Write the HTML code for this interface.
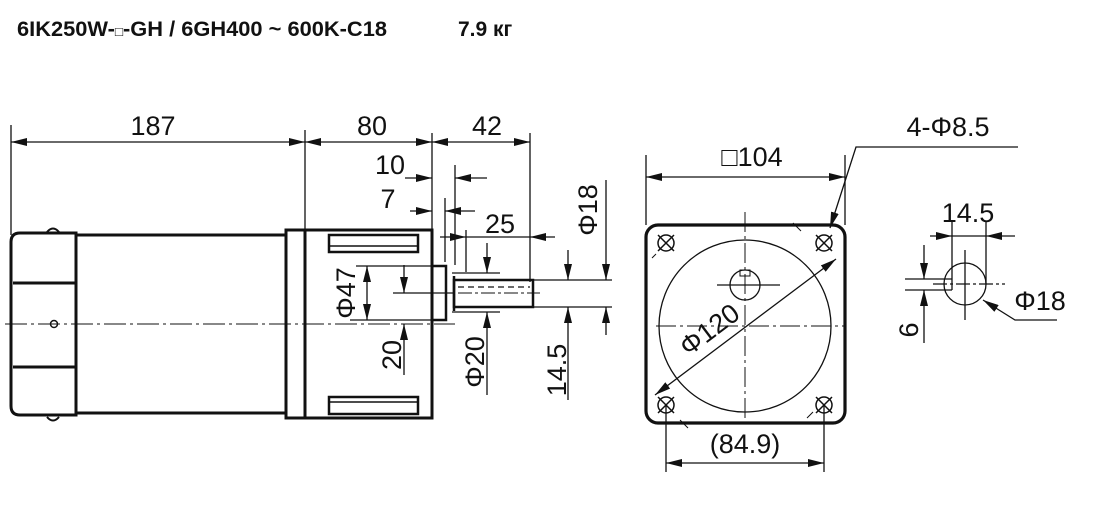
<!DOCTYPE html>
<html><head><meta charset="utf-8"><style>
html,body{margin:0;padding:0;background:#fff;}
svg{display:block;}
text{font-family:"Liberation Sans",sans-serif;fill:#111;}
</style></head><body>
<svg width="1100" height="506" viewBox="0 0 1100 506" xmlns="http://www.w3.org/2000/svg">
<defs>
<marker id="a" viewBox="0 0 16 8" refX="16" refY="4" markerWidth="16" markerHeight="8" markerUnits="userSpaceOnUse" orient="auto"><path d="M0,0 L16,4 L0,8 z" fill="#111"/></marker>
<marker id="s" viewBox="0 0 16 8" refX="16" refY="4" markerWidth="16" markerHeight="8" markerUnits="userSpaceOnUse" orient="auto-start-reverse"><path d="M0,0 L16,4 L0,8 z" fill="#111"/></marker>
</defs>
<text x="17" y="36" font-size="21" font-weight="bold" textLength="370" lengthAdjust="spacingAndGlyphs">6IK250W-<tspan font-size="13">□</tspan>-GH / 6GH400 ~ 600K-C18</text>
<text x="458" y="36" font-size="21" font-weight="bold">7.9 кг</text>

<g stroke="#111" fill="none" stroke-width="1.3">
<line x1="11" y1="125" x2="11" y2="235"/>
<line x1="305" y1="130" x2="305" y2="230"/>
<line x1="432" y1="133" x2="432" y2="230"/>
<line x1="530" y1="133" x2="530" y2="282"/>
<line x1="11" y1="142" x2="305" y2="142" marker-start="url(#s)" marker-end="url(#a)"/>
<line x1="305" y1="142" x2="432" y2="142" marker-start="url(#s)" marker-end="url(#a)"/>
<line x1="432" y1="142" x2="530" y2="142" marker-start="url(#s)" marker-end="url(#a)"/>
<line x1="455" y1="165" x2="455" y2="265"/>
<line x1="405" y1="178" x2="432" y2="178" marker-end="url(#a)"/>
<line x1="487" y1="178" x2="455" y2="178" marker-end="url(#a)"/>
<line x1="445" y1="198" x2="445" y2="262"/>
<line x1="410" y1="211" x2="432" y2="211" marker-end="url(#a)"/>
<line x1="475" y1="211" x2="445" y2="211" marker-end="url(#a)"/>
<line x1="466" y1="230" x2="466" y2="272"/>
<line x1="440" y1="237" x2="466" y2="237" marker-end="url(#a)"/>
<line x1="555" y1="237" x2="530" y2="237" marker-end="url(#a)"/>
<line x1="466" y1="237" x2="530" y2="237"/>

<path d="M20,233 H76 V415 H20 Q11,415 11,406 V242 Q11,233 20,233 Z" stroke-width="3"/>
<line x1="13" y1="283" x2="76" y2="283" stroke-width="3"/>
<line x1="13" y1="367" x2="76" y2="367" stroke-width="3"/>
<path d="M47,232 Q53,225 59,232" stroke-width="2"/>
<path d="M47,417 Q53,424 59,417" stroke-width="2"/>
<circle cx="54" cy="324" r="3.5" stroke-width="1.5"/>
<line x1="76" y1="235" x2="286" y2="235" stroke-width="3"/>
<line x1="76" y1="413" x2="286" y2="413" stroke-width="3"/>
<rect x="286" y="230" width="146" height="188" stroke-width="3"/>
<line x1="305" y1="230" x2="305" y2="418" stroke-width="3"/>
<rect x="329" y="235" width="89" height="17" stroke-width="2.5"/>
<line x1="329" y1="246" x2="418" y2="246" stroke-width="1.5"/>
<rect x="329" y="397" width="89" height="17" stroke-width="2.5"/>
<line x1="329" y1="402" x2="418" y2="402" stroke-width="1.5"/>
<rect x="432" y="266" width="14" height="54" stroke-width="2.5"/>
<rect x="454" y="280" width="79" height="27" stroke-width="2.5"/>
<line x1="454" y1="276" x2="454" y2="311" stroke-width="2.5"/>
<line x1="458" y1="287" x2="530" y2="287" stroke-dasharray="6,4" stroke-width="1.2"/>
<line x1="458" y1="293" x2="540" y2="293" stroke-dasharray="14,3,3,3" stroke-width="1"/>
<line x1="5" y1="324" x2="455" y2="324" stroke-dasharray="22,4,3,4" stroke-width="1"/>

<line x1="356" y1="266" x2="446" y2="266"/>
<line x1="350" y1="320" x2="446" y2="320"/>
<line x1="367" y1="293" x2="367" y2="266" marker-end="url(#a)"/>
<line x1="367" y1="293" x2="367" y2="320" marker-end="url(#a)"/>
<line x1="393" y1="293" x2="454" y2="293"/>
<line x1="404" y1="265" x2="404" y2="293" marker-end="url(#a)"/>
<line x1="404" y1="375" x2="404" y2="324" marker-end="url(#a)"/>
<line x1="452" y1="273" x2="500" y2="273"/>
<line x1="452" y1="312" x2="500" y2="312"/>
<line x1="487" y1="243" x2="487" y2="273" marker-end="url(#a)"/>
<line x1="487" y1="395" x2="487" y2="312" marker-end="url(#a)"/>
<line x1="533" y1="280" x2="612" y2="280"/>
<line x1="533" y1="307" x2="612" y2="307"/>
<line x1="568" y1="250" x2="568" y2="280" marker-end="url(#a)"/>
<line x1="568" y1="400" x2="568" y2="307" marker-end="url(#a)"/>
<line x1="606" y1="180" x2="606" y2="280" marker-end="url(#a)"/>
<line x1="606" y1="335" x2="606" y2="307" marker-end="url(#a)"/>

<rect x="646" y="225" width="199" height="198" rx="12" stroke-width="3.2"/>
<circle cx="745" cy="326" r="86"/>
<line x1="656" y1="326" x2="845" y2="326" stroke-dasharray="20,4,3,4" stroke-width="1"/>
<line x1="745" y1="212" x2="745" y2="422" stroke-dasharray="20,4,3,4" stroke-width="1"/>
<circle cx="745" cy="285" r="15"/>
<line x1="717" y1="285" x2="780" y2="285"/>
<rect x="740" y="270" width="10" height="6" stroke-width="1"/>
<g stroke-width="1.5">
<circle cx="666" cy="243" r="8"/><path d="M658,235 L674,251 M674,235 L658,251"/>
<circle cx="824" cy="243" r="8"/><path d="M816,235 L832,251 M832,235 L816,251"/>
<circle cx="666" cy="405" r="8"/><path d="M658,397 L674,413 M674,397 L658,413"/>
<circle cx="824" cy="405" r="8"/><path d="M816,397 L832,413 M832,397 L816,413"/>
</g>
<path d="M652,258 l4,-4 M793,223 l8,8 M680,420 l8,8 M807,418 l6,-6" stroke-width="1"/>
<line x1="646" y1="155" x2="646" y2="225"/>
<line x1="845" y1="155" x2="845" y2="225"/>
<line x1="646" y1="177" x2="845" y2="177" marker-start="url(#s)" marker-end="url(#a)"/>
<polyline points="1018,147 856,147 830,228" marker-end="url(#a)"/>
<line x1="655" y1="395" x2="836" y2="259" marker-start="url(#s)" marker-end="url(#a)"/>
<line x1="666" y1="405" x2="666" y2="472"/>
<line x1="824" y1="405" x2="824" y2="472"/>
<line x1="666" y1="463" x2="824" y2="463" marker-start="url(#s)" marker-end="url(#a)"/>

<circle cx="965" cy="284" r="21"/>
<line x1="965" y1="250" x2="965" y2="320"/>
<line x1="933" y1="284" x2="1005" y2="284" stroke-dasharray="14,3,3,3"/>
<line x1="952" y1="222" x2="952" y2="290"/>
<line x1="986" y1="222" x2="986" y2="284"/>
<line x1="930" y1="236" x2="952" y2="236" marker-end="url(#a)"/>
<line x1="1015" y1="236" x2="986" y2="236" marker-end="url(#a)"/>
<line x1="952" y1="236" x2="986" y2="236"/>
<line x1="905" y1="279" x2="952" y2="279"/>
<line x1="905" y1="290" x2="952" y2="290"/>
<line x1="924" y1="245" x2="924" y2="279" marker-end="url(#a)"/>
<line x1="924" y1="343" x2="924" y2="290" marker-end="url(#a)"/>
<polyline points="1057,320 1015,320 983,300" marker-end="url(#a)"/>
</g>

<g font-size="27">
<text x="153" y="135" text-anchor="middle">187</text>
<text x="372" y="135" text-anchor="middle">80</text>
<text x="487" y="135" text-anchor="middle">42</text>
<text x="390" y="174" text-anchor="middle">10</text>
<text x="388" y="208" text-anchor="middle">7</text>
<text x="500" y="233" text-anchor="middle">25</text>
<text transform="translate(355,293) rotate(-90)" text-anchor="middle">Φ47</text>
<text transform="translate(401,355) rotate(-90)" text-anchor="middle">20</text>
<text transform="translate(484,362) rotate(-90)" text-anchor="middle">Φ20</text>
<text transform="translate(566,370) rotate(-90)" text-anchor="middle">14.5</text>
<text transform="translate(597,210) rotate(-90)" text-anchor="middle">Φ18</text>
<text x="752" y="166" text-anchor="middle">□104</text>
<text x="948" y="136" text-anchor="middle">4-Φ8.5</text>
<text transform="translate(715,337) rotate(-37)" text-anchor="middle">Φ120</text>
<text x="745" y="453" text-anchor="middle">(84.9)</text>
<text x="968" y="222" text-anchor="middle">14.5</text>
<text x="1040" y="310" text-anchor="middle">Φ18</text>
<text transform="translate(918,330) rotate(-90)" text-anchor="middle">6</text>
</g>
</svg>
</body></html>
